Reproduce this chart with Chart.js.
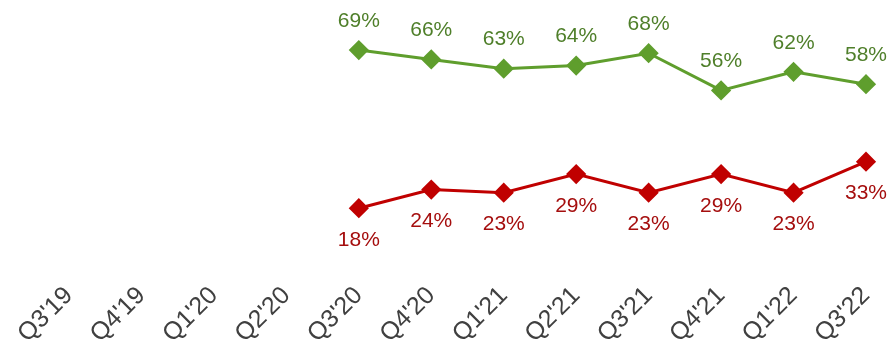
<!DOCTYPE html>
<html>
<head>
<meta charset="utf-8">
<script src="https://cdn.jsdelivr.net/npm/chart.js@4/dist/chart.umd.min.js"></script>
<style>
  html, body { margin: 0; padding: 0; background: #fff; }
  #wrap { width: 894px; height: 344px; }
</style>
</head>
<body>
<div id="wrap"><canvas id="grafico"></canvas></div>
<script>
// Trimestres
const trimestres = ["Q3'19", "Q4'19", "Q1'20", "Q2'20", "Q3'20", "Q4'20",
                    "Q1'21", "Q2'21", "Q3'21", "Q4'21", "Q1'22", "Q3'22"];

// Séries (sem dados antes de Q3'20)
const serieVerde = [null, null, null, null, 69, 66, 63, 64, 68, 56, 62, 58];
const serieVermelha = [null, null, null, null, 18, 24, 23, 29, 23, 29, 23, 33];

// Rótulos de valor desenhados acima/abaixo dos pontos
const rotulosPlugin = {
  id: 'rotulos',
  afterDatasetsDraw(chart) {
    const ctx = chart.ctx;
    ctx.save();
    ctx.font = '21px "Liberation Sans", Arial, sans-serif';
    ctx.textAlign = 'center';
    ctx.textBaseline = 'middle';
    chart.data.datasets.forEach((ds, i) => {
      const meta = chart.getDatasetMeta(i);
      meta.data.forEach((pt, j) => {
        const v = ds.data[j];
        if (v === null) return;
        ctx.fillStyle = ds.corRotulo;
        ctx.fillText(v + '%', pt.x, pt.y + ds.deslocRotulo);
      });
    });
    ctx.restore();
  }
};

const ctx = document.getElementById('grafico').getContext('2d');
new Chart(ctx, {
  type: 'line',
  data: {
    labels: trimestres,
    datasets: [{
      data: serieVerde,
      borderColor: '#5f9e2d',
      backgroundColor: '#5f9e2d',
      borderWidth: 3,
      pointStyle: 'rectRot',
      pointRadius: 8,
      pointHoverRadius: 8,
      corRotulo: '#4f7f2a',
      deslocRotulo: -29
    }, {
      data: serieVermelha,
      borderColor: '#c00000',
      backgroundColor: '#c00000',
      borderWidth: 3,
      pointStyle: 'rectRot',
      pointRadius: 8,
      pointHoverRadius: 8,
      corRotulo: '#a50e0e',
      deslocRotulo: 32
    }]
  },
  options: {
    responsive: true,
    maintainAspectRatio: false,
    animation: false,
    layout: { padding: { left: 69, right: 28, top: 16, bottom: 0 } },
    plugins: {
      legend: { display: false },
      tooltip: { enabled: false }
    },
    scales: {
      x: {
        grid: { display: false },
        border: { display: false },
        afterFit(scale) {
          // altura fixa do eixo e sem margem extra nas pontas
          scale.height = 80;
          scale.paddingLeft = 0;
          scale.paddingRight = 0;
        },
        ticks: {
          color: '#404040',
          font: { family: '"Liberation Sans", Arial, sans-serif', size: 25 },
          minRotation: 45,
          maxRotation: 45,
          autoSkip: false,
          padding: 9
        }
      },
      y: {
        display: false,
        min: 0,
        max: 80
      }
    }
  },
  plugins: [rotulosPlugin]
});
</script>
</body>
</html>
